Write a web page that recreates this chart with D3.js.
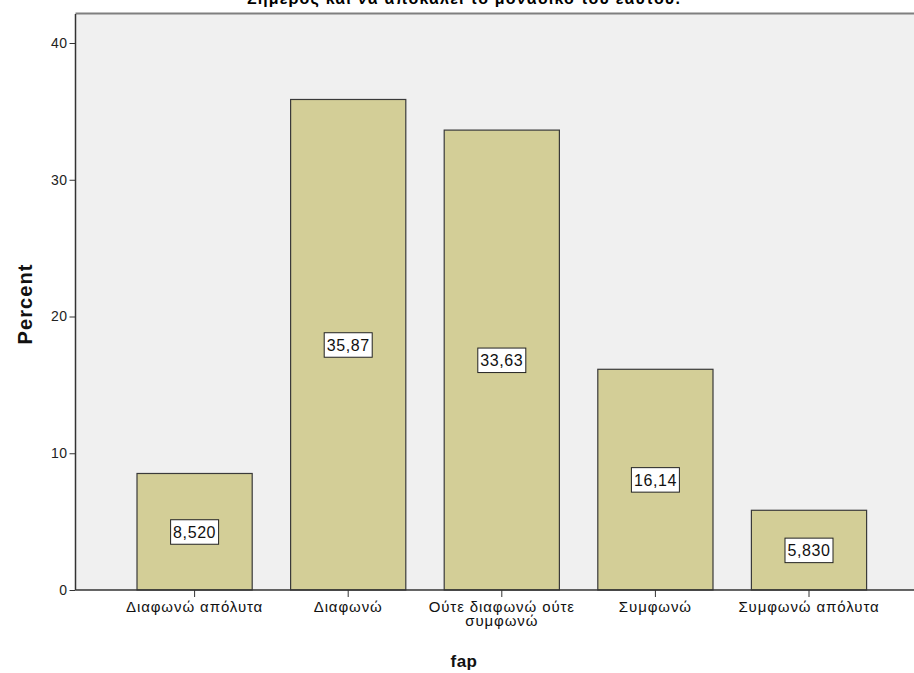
<!DOCTYPE html>
<html><head><meta charset="utf-8">
<script src="https://cdn.jsdelivr.net/npm/d3@7"></script>
<style>body{margin:0;background:#fff;}svg{display:block;font-family:Arial,"Liberation Sans",sans-serif;}</style>
</head><body>
<svg id="c" width="914" height="673"></svg>
<script>
const categories = [["Διαφωνώ απόλυτα"], ["Διαφωνώ"], ["Ούτε διαφωνώ ούτε", "συμφωνώ"], ["Συμφωνώ"], ["Συμφωνώ απόλυτα"]];
const values = [8.520, 35.87, 33.63, 16.14, 5.830];
const valueLabels = ["8,520", "35,87", "33,63", "16,14", "5,830"];
const yTicks = [0, 10, 20, 30, 40];
const title = "Σήμερος και να αποκαλεί το μοναδικό του εαυτού.";
const xTitle = "fap";
const yTitle = "Percent";

(function() {
const svg = d3.select("#c");
const pL = 75.5, pR = 914, pT = 14, pB = 590;
const ids = categories.map((d, i) => i);
const x = d3.scaleBand().domain(ids).range([98.6, 905]).padding(0.25);
const y = d3.scaleLinear().domain([0, 40]).range([590, 43]);

// title (cut off at top)
svg.append("text").attr("x", 464).attr("y", 4).attr("text-anchor", "middle")
  .attr("font-weight", "bold").attr("font-size", 16).attr("letter-spacing", 1.2).attr("fill", "#000").text(title);

// plot background
svg.append("rect").attr("x", pL).attr("y", pT).attr("width", pR - pL).attr("height", pB - pT).attr("fill", "#f0f0f0");
svg.append("line").attr("x1", pL).attr("x2", pR).attr("y1", 13.5).attr("y2", 13.5).attr("stroke", "#7f7f7f").attr("stroke-width", 2);

// bars
svg.selectAll("rect.bar").data(values).join("rect").attr("class", "bar")
  .attr("x", (d, i) => x(i)).attr("width", x.bandwidth())
  .attr("y", d => y(d)).attr("height", d => y(0) - y(d))
  .attr("fill", "#d3ce97").attr("stroke", "#3a3a3a").attr("stroke-width", 1.2);

// y axis
const ya = svg.append("g").attr("transform", `translate(${pL},0)`)
  .call(d3.axisLeft(y).tickValues(yTicks).tickSize(6).tickPadding(2).tickFormat(d3.format("d")));
ya.select(".domain").attr("stroke", "#333").attr("stroke-width", 1.5).attr("d", `M0,${pT}V${pB}`);
ya.selectAll(".tick line").attr("stroke", "#333");
ya.selectAll(".tick text").attr("font-size", 14).attr("letter-spacing", 0.5).attr("fill", "#222").attr("font-family", "Arial,'Liberation Sans',sans-serif");

// x axis
const xa = svg.append("g").attr("transform", `translate(0,${pB})`)
  .call(d3.axisBottom(x).tickSize(7).tickFormat(""));
xa.select(".domain").attr("stroke", "#333").attr("stroke-width", 1.5).attr("d", `M${pL},0H${pR}`);
xa.selectAll(".tick line").attr("stroke", "#333");
xa.selectAll(".tick").each(function(d) {
  const t = d3.select(this).append("text").attr("y", 22).attr("text-anchor", "middle")
    .attr("font-size", 15).attr("letter-spacing", 0.9).attr("fill", "#111").attr("font-family", "Arial,'Liberation Sans',sans-serif");
  categories[d].forEach((line, j) => t.append("tspan").attr("x", 0).attr("dy", j === 0 ? 0 : 14).text(line));
});

// value labels
const lab = svg.selectAll("g.lab").data(values).join("g").attr("class", "lab")
  .attr("transform", (d, i) => `translate(${x(i) + x.bandwidth() / 2},${(y(d) + y(0)) / 2})`);
lab.append("rect").attr("x", -24).attr("y", -12).attr("width", 48).attr("height", 24.5)
  .attr("fill", "#fff").attr("stroke", "#222").attr("stroke-width", 1);
lab.append("text").attr("text-anchor", "middle").attr("dy", 6).attr("font-size", 16).attr("letter-spacing", 0.6).attr("fill", "#111")
  .text((d, i) => valueLabels[i]);

// axis titles
svg.append("text").attr("x", 464).attr("y", 667).attr("text-anchor", "middle")
  .attr("font-weight", "bold").attr("font-size", 17).attr("letter-spacing", 0.5).attr("fill", "#111").text(xTitle);
svg.append("text").attr("transform", "translate(32,304) rotate(-90)").attr("text-anchor", "middle")
  .attr("font-weight", "bold").attr("font-size", 20).attr("letter-spacing", 1.1).attr("fill", "#111").text(yTitle);
})();
</script>
</body></html>
